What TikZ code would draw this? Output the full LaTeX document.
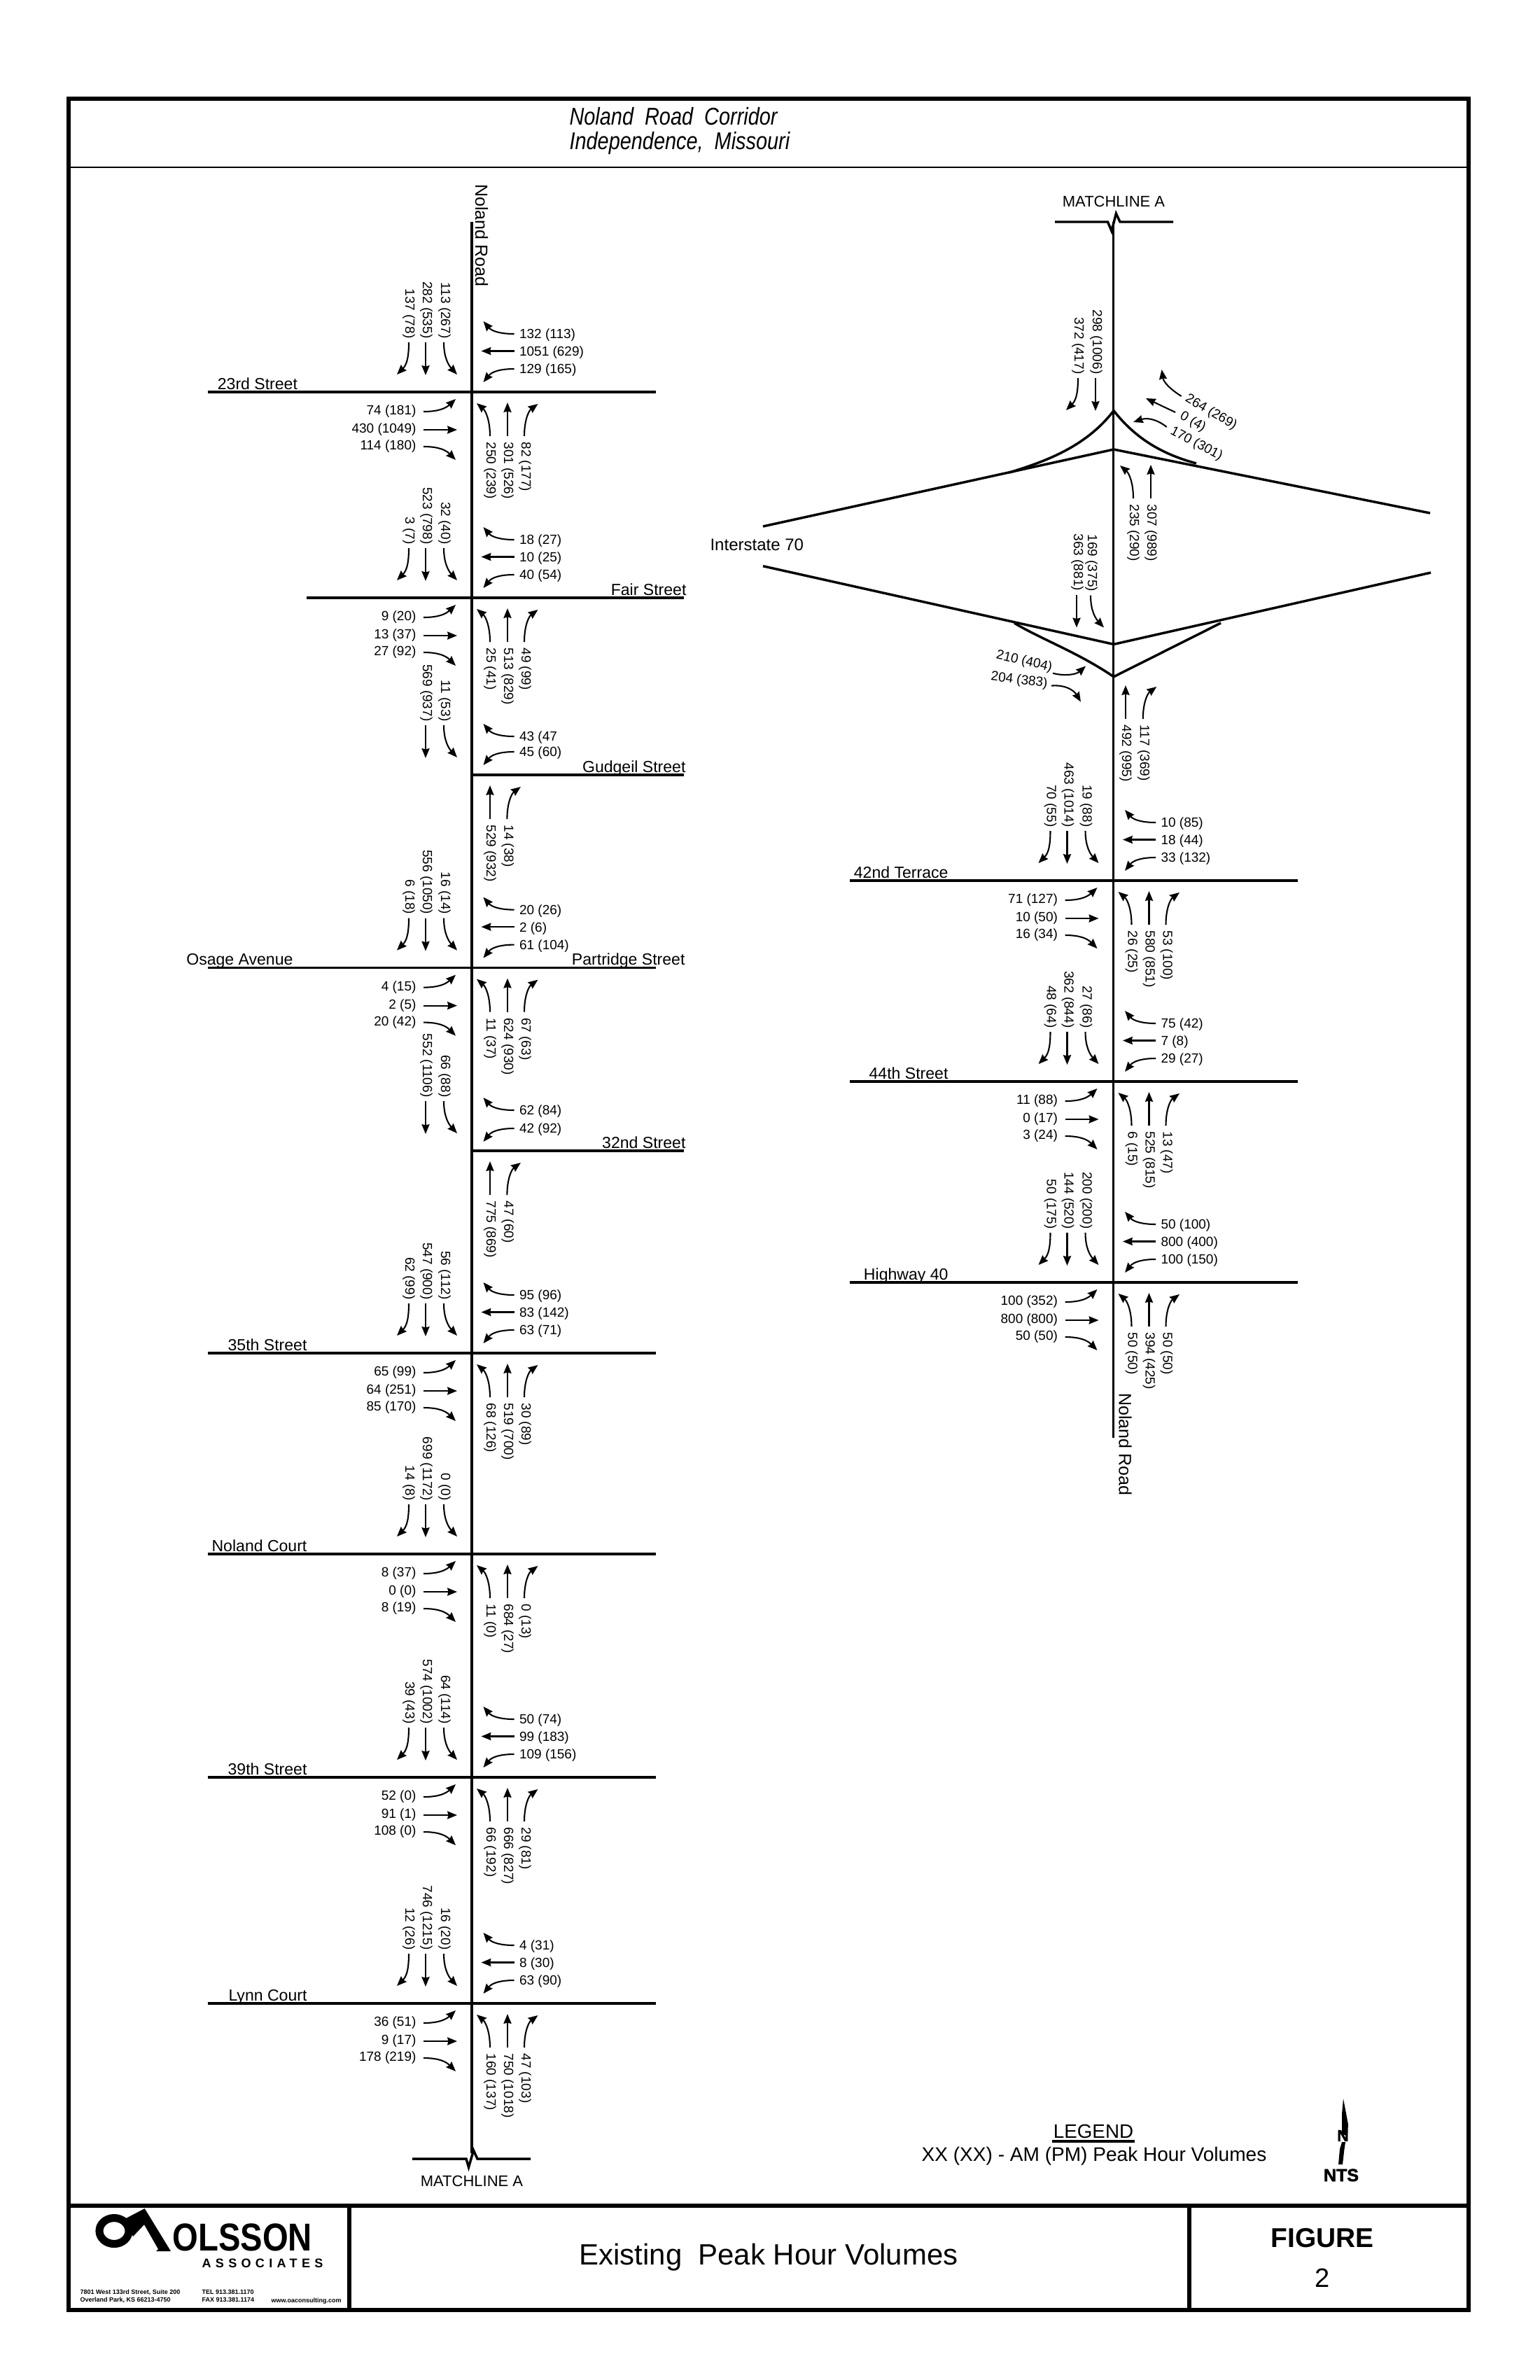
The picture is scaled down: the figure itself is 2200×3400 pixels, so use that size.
\documentclass[tikz,border=0pt]{standalone}
\usepackage{fontspec}
\setmainfont{Liberation Sans}
\usetikzlibrary{arrows.meta}
\newcommand{\volfont}{\fontsize{6.84}{8}\selectfont}
\newcommand{\streetfont}{\fontsize{8.3}{10}\selectfont}
\tikzset{
    road/.style={line width=1.25pt},
    frameline/.style={line width=2pt},
    turn/.style={line width=0.75pt, -{Stealth[length=5pt,width=4pt,inset=0.5pt]}},
    vol/.style={font=\volfont, inner sep=0pt},
    street/.style={font=\streetfont, inner sep=0pt, anchor=base east},
    pics/sleft/.style={code={
        \draw[turn] (0,0) .. controls (0,25) and (-4,33) .. (-17,46);
        \node[vol, rotate=-90, anchor=east] at (0,-5) {#1};}},
    pics/sthru/.style={code={
        \draw[turn] (0,0) -- (0,47);
        \node[vol, rotate=-90, anchor=east] at (1,-5) {#1};}},
    pics/sright/.style={code={
        \draw[turn] (0,0) .. controls (0,22) and (7,33) .. (19,46);
        \node[vol, rotate=-90, anchor=east] at (1,-5) {#1};}},
    pics/wup/.style={code={
        \draw[turn] (0,0) .. controls (-20,0) and (-32,-4) .. (-44,-18);
        \node[vol, anchor=west] at (7,2) {#1};}},
    pics/wthru/.style={code={
        \draw[turn] (0,0) -- (-47,0);
        \node[vol, anchor=west] at (7,2) {#1};}},
    pics/wdown/.style={code={
        \draw[turn] (0,0) .. controls (-20,0) and (-32,4) .. (-44,19);
        \node[vol, anchor=west] at (7,2) {#1};}},
    pics/eup/.style={code={
        \draw[turn] (0,0) .. controls (22,0) and (32,-5) .. (46,-18);
        \node[vol, anchor=east] at (-10,0) {#1};}},
    pics/ethru/.style={code={
        \draw[turn] (0,0) -- (48,0);
        \node[vol, anchor=east] at (-10,0) {#1};}},
    pics/edown/.style={code={
        \draw[turn] (0,0) .. controls (22,0) and (32,5) .. (46,19);
        \node[vol, anchor=east] at (-10,0) {#1};}},
    pics/nleft/.style={code={
        \draw[turn] (0,0) .. controls (0,-22) and (-6,-36) .. (-19,-47);
        \node[vol, rotate=-90, anchor=west] at (0,8) {#1};}},
    pics/nthru/.style={code={
        \draw[turn] (0,0) -- (0,-48);
        \node[vol, rotate=-90, anchor=west] at (0,8) {#1};}},
    pics/nright/.style={code={
        \draw[turn] (0,0) .. controls (0,-22) and (6,-36) .. (19.5,-46);
        \node[vol, rotate=-90, anchor=west] at (1,8) {#1};}},
    pics/southleg/.style n args={3}{code={
        \pic at (-90,-71) {sleft={#1}};
        \pic at (-66,-71) {sthru={#2}};
        \pic at (-40,-71) {sright={#3}};}},
    pics/westleg/.style n args={3}{code={
        \pic at (60.5,-83) {wup={#1}};
        \pic at (60.5,-58.5) {wthru={#2}};
        \pic at (60.5,-33) {wdown={#3}};}},
    pics/eastleg/.style n args={3}{code={
        \pic at (-69,28) {eup={#1}};
        \pic at (-69,54) {ethru={#2}};
        \pic at (-69,78) {edown={#3}};}},
    pics/northleg/.style n args={3}{code={
        \pic at (26,63) {nleft={#1}};
        \pic at (51,63) {nthru={#2}};
        \pic at (75,63) {nright={#3}};}},
}
\begin{document}
\begin{tikzpicture}[x=0.36pt, y=-0.36pt, font=\volfont]
    \useasboundingbox (0,0) rectangle (2200,3400);

    % Sheet frame and title block
    \draw[frameline] (98,141) rectangle (2098,3300);
    \draw[line width=0.9pt] (98,239) -- (2098,239);
    \draw[frameline] (98,3151) -- (2098,3151);
    \draw[frameline] (499,3151) -- (499,3300);
    \draw[frameline] (1699,3151) -- (1699,3300);
    \node[inner sep=0pt, anchor=base west] (titleA) at (813,178) {\scalebox{1}[1.2]{\fontsize{10.4}{13}\selectfont\itshape Noland\ \ Road\ \ Corridor}};
    \node[inner sep=0pt, anchor=base west] (titleB) at (813,213) {\scalebox{1}[1.2]{\fontsize{10.4}{13}\selectfont\itshape Independence,\ \ Missouri}};
    \node[font=\fontsize{15.1}{18}\selectfont, inner sep=0pt, anchor=base west] (sheetname) at (827,3235) {Existing\ \ Peak Hour Volumes};
    \node[font=\fontsize{14}{16}\selectfont\bfseries, inner sep=0pt, anchor=base] (figlabel) at (1889,3210) {FIGURE};
    \node[font=\fontsize{13.7}{16}\selectfont, inner sep=0pt, anchor=base] (fignum) at (1889,3267) {2};

    % Logo
    \draw[line width=4pt] (163,3187) ellipse (21 and 18.5);
    \fill (206.7,3155) -- (244,3216) -- (223,3216) -- (226,3213) -- (206,3178) -- (190,3195) -- (178,3170) -- cycle;
    \node[inner sep=0pt, anchor=west] (firm) at (246,3196) {\scalebox{0.85}[1]{\fontsize{20}{22}\selectfont\bfseries OLSSON}};
    \node[inner sep=0pt, anchor=base west] (firmsub) at (288,3239) {\fontsize{6.5}{8}\selectfont\bfseries\addfontfeature{LetterSpace=35}ASSOCIATES};
    \node[font=\fontsize{3.24}{4}\selectfont\bfseries, inner sep=0pt, anchor=base west] (addrA) at (114,3277) {7801 West 133rd Street, Suite 200};
    \node[font=\fontsize{3.24}{4}\selectfont\bfseries, inner sep=0pt, anchor=base west] (addrB) at (114,3288) {Overland Park, KS 66213-4750};
    \node[font=\fontsize{3.24}{4}\selectfont\bfseries, inner sep=0pt, anchor=base west] (tel) at (288,3277) {TEL 913.381.1170};
    \node[font=\fontsize{3.24}{4}\selectfont\bfseries, inner sep=0pt, anchor=base west] (fax) at (288,3288) {FAX 913.381.1174};
    \node[font=\fontsize{3.24}{4}\selectfont\bfseries, inner sep=0pt, anchor=base west] (web) at (387,3289) {www.oaconsulting.com};

    % Legend and north arrow
    \node[font=\fontsize{10}{12}\selectfont, inner sep=0pt, anchor=base] (legend) at (1562,3054) {LEGEND};
    \draw[line width=1.3pt] (1503,3059) -- (1621,3059);
    \node[font=\fontsize{10.1}{12}\selectfont, inner sep=0pt, anchor=base] (legendtext) at (1563,3087) {XX (XX) - AM (PM) Peak Hour Volumes};
    \fill (1919,2998) -- (1926,3035) -- (1925,3050) -- (1917,3050) -- (1917,3020) -- cycle;
    \fill (1922,3060) -- (1920,3074) -- (1918,3092) -- (1912,3092) -- (1914,3070) -- (1917,3060) -- cycle;
    \node[font=\fontsize{8.2}{10}\selectfont\bfseries\addfontfeature{FakeBold=2}, inner sep=0pt] (northN) at (1918.5,3051) {N};
    \node[font=\fontsize{9}{10}\selectfont\bfseries\addfontfeature{FakeBold=2}, inner sep=0pt, anchor=base] (nts) at (1916,3116) {NTS};

    % Left sheet: road and streets
    \draw[road] (674,316.6) -- (674,3076);
    \foreach \ystreet in {560,1382.6,1933,2220,2539,2862}
        \draw[road] (296.5,\ystreet) -- (936.5,\ystreet);
    \draw[road] (438,854) -- (977,854);
    \draw[road] (674,1107) -- (977,1107);
    \draw[road] (674,1644) -- (977,1644);
    \draw[road] (589,3084) -- (666,3084) -- (669.5,3096) -- (676.5,3072) -- (682,3084) -- (758,3084);
    \node[font=\fontsize{7.92}{9}\selectfont, inner sep=0pt] (matchB) at (674,3116) {MATCHLINE A};
    \node[font=\fontsize{9}{11}\selectfont, inner sep=0pt, rotate=-90, anchor=west] (nolandA) at (688,262.5) {Noland Road};

    \node[street] (st23) at (425.5,556) {23rd Street};
    \node[street] (stFair) at (981,850) {Fair Street};
    \node[street] (stGudgeil) at (980,1103) {Gudgeil Street};
    \node[street] (stOsage) at (419,1378.6) {Osage Avenue};
    \node[street] (stPartridge) at (979,1378.6) {Partridge Street};
    \node[street] (st32) at (980,1640) {32nd Street};
    \node[street] (st35) at (439,1929) {35th Street};
    \node[street] (stCourt) at (439,2216) {Noland Court};
    \node[street] (st39) at (439,2535) {39th Street};
    \node[street] (stLynn) at (439,2858) {Lynn Court};

    % 23rd Street
    \pic at (674,560) {southleg={137 (78)}{282 (535)}{113 (267)}};
    \pic at (674,560) {westleg={132 (113)}{1051 (629)}{129 (165)}};
    \pic at (674,560) {eastleg={74 (181)}{430 (1049)}{114 (180)}};
    \pic at (674,560) {northleg={250 (239)}{301 (526)}{82 (177)}};
    % Fair Street
    \pic at (674,854) {southleg={3 (7)}{523 (798)}{32 (40)}};
    \pic at (674,854) {westleg={18 (27)}{10 (25)}{40 (54)}};
    \pic at (674,854) {eastleg={9 (20)}{13 (37)}{27 (92)}};
    \pic at (674,854) {northleg={25 (41)}{513 (829)}{49 (99)}};
    % Gudgeil Street
    \pic at (608,1036) {sthru={569 (937)}};
    \pic at (634,1036) {sright={11 (53)}};
    \pic at (734.5,1052) {wup={43 (47}};
    \pic at (734.5,1074) {wdown={45 (60)}};
    \pic at (700,1170) {nthru={529 (932)}};
    \pic at (724.4,1170) {nright={14 (38)}};
    % Partridge Street
    \pic at (674,1382.6) {southleg={6 (18)}{556 (1050)}{16 (14)}};
    \pic at (674,1382.6) {westleg={20 (26)}{2 (6)}{61 (104)}};
    \pic at (674,1382.6) {eastleg={4 (15)}{2 (5)}{20 (42)}};
    \pic at (674,1382.6) {northleg={11 (37)}{624 (930)}{67 (63)}};
    % 32nd Street
    \pic at (608,1573) {sthru={552 (1106)}};
    \pic at (634,1573) {sright={66 (88)}};
    \pic at (734.5,1586) {wup={62 (84)}};
    \pic at (734.5,1612) {wdown={42 (92)}};
    \pic at (700,1707) {nthru={775 (869)}};
    \pic at (724.4,1707) {nright={47 (60)}};
    % 35th Street
    \pic at (674,1933) {southleg={62 (99)}{547 (900)}{56 (112)}};
    \pic at (674,1933) {westleg={95 (96)}{83 (142)}{63 (71)}};
    \pic at (674,1933) {eastleg={65 (99)}{64 (251)}{85 (170)}};
    \pic at (674,1933) {northleg={68 (126)}{519 (700)}{30 (89)}};
    % Noland Court
    \pic at (674,2220) {southleg={14 (8)}{699 (1172)}{0 (0)}};
    \pic at (674,2220) {eastleg={8 (37)}{0 (0)}{8 (19)}};
    \pic at (674,2220) {northleg={11 (0)}{684 (27)}{0 (13)}};
    % 39th Street
    \pic at (674,2539) {southleg={39 (43)}{574 (1002)}{64 (114)}};
    \pic at (674,2539) {westleg={50 (74)}{99 (183)}{109 (156)}};
    \pic at (674,2539) {eastleg={52 (0)}{91 (1)}{108 (0)}};
    \pic at (674,2539) {northleg={66 (192)}{666 (827)}{29 (81)}};
    % Lynn Court
    \pic at (674,2862) {southleg={12 (26)}{746 (1215)}{16 (20)}};
    \pic at (674,2862) {westleg={4 (31)}{8 (30)}{63 (90)}};
    \pic at (674,2862) {eastleg={36 (51)}{9 (17)}{178 (219)}};
    \pic at (674,2862) {northleg={160 (137)}{750 (1018)}{47 (103)}};

    % Right sheet: road and streets
    \draw[road] (1590.5,317) -- (1590.5,2054);
    \foreach \ystreet in {1258,1545,1832}
        \draw[road] (1214,\ystreet) -- (1853.5,\ystreet);
    \draw[road] (1507,317) -- (1582.5,317) -- (1588,330) -- (1594.4,305) -- (1600,317) -- (1676,317);
    \node[font=\fontsize{7.92}{9}\selectfont, inner sep=0pt] (matchA) at (1591,288) {MATCHLINE A};
    \node[font=\fontsize{9}{11}\selectfont, inner sep=0pt, rotate=-90, anchor=west] (nolandB) at (1607.6,1989.6) {Noland Road};
    \node[street] (st42) at (1355,1254) {42nd Terrace};
    \node[street] (st44) at (1355,1541) {44th Street};
    \node[street] (stHwy) at (1355,1828) {Highway 40};

    % Interstate 70 and ramps
    \node[font=\fontsize{8.64}{10}\selectfont, inner sep=0pt, anchor=west] (interstate) at (1014,778) {Interstate 70};
    \draw[road] (1090,752) -- (1591,642) -- (2043,733);
    \draw[road] (1090,808.7) -- (1591,920.4) -- (2044,818);
    \draw[road] (1442,675) .. controls (1490,660) and (1550,640) .. (1591,586.7) .. controls (1625,630) and (1665,650) .. (1709,662);
    \draw[road] (1449,890) .. controls (1485,912) and (1540,932) .. (1591,966.8) -- (1744,890);

    % Ramp movements
    \pic at (1565,540) {sthru={298 (1006)}};
    \pic at (1540,540) {sleft={372 (417)}};
    \pic at (1619,712) {nleft={235 (290)}};
    \pic at (1644,712) {nthru={307 (989)}};
    \pic at (1538,849.5) {sthru={363 (881)}};
    \pic at (1558,850.5) {sright={169 (375)}};
    \pic at (1608,1027) {nthru={492 (995)}};
    \pic at (1632.8,1027) {nright={117 (369)}};
    \draw[turn] (1687.7,566) .. controls (1670,555) and (1662,545) .. (1659.6,528);
    \draw[turn] (1679,589) -- (1637,569);
    \draw[turn] (1666.7,610) .. controls (1650,597) and (1637,597) .. (1619,603);
    \node[vol, rotate=-30] (rampA) at (1730,589) {264 (269)};
    \node[vol, rotate=-30] (rampB) at (1704,603) {0 (4)};
    \node[vol, rotate=-28] (rampC) at (1709,634) {170 (301)};
    \draw[turn] (1504,961.7) .. controls (1520,966) and (1537,964) .. (1551,951.5);
    \draw[turn] (1502,979.6) .. controls (1522,978) and (1534,986) .. (1544,1002.6);
    \node[vol, rotate=-13] (rampD) at (1463,945) {210 (404)};
    \node[vol, rotate=-7] (rampE) at (1456,972) {204 (383)};

    % 42nd Terrace
    \pic at (1590.5,1258) {southleg={70 (55)}{463 (1014)}{19 (88)}};
    \pic at (1590.5,1258) {westleg={10 (85)}{18 (44)}{33 (132)}};
    \pic at (1590.5,1258) {eastleg={71 (127)}{10 (50)}{16 (34)}};
    \pic at (1590.5,1258) {northleg={26 (25)}{580 (851)}{53 (100)}};
    % 44th Street
    \pic at (1590.5,1545) {southleg={48 (64)}{362 (844)}{27 (86)}};
    \pic at (1590.5,1545) {westleg={75 (42)}{7 (8)}{29 (27)}};
    \pic at (1590.5,1545) {eastleg={11 (88)}{0 (17)}{3 (24)}};
    \pic at (1590.5,1545) {northleg={6 (15)}{525 (815)}{13 (47)}};
    % Highway 40
    \pic at (1590.5,1832) {southleg={50 (175)}{144 (520)}{200 (200)}};
    \pic at (1590.5,1832) {westleg={50 (100)}{800 (400)}{100 (150)}};
    \pic at (1590.5,1832) {eastleg={100 (352)}{800 (800)}{50 (50)}};
    \pic at (1590.5,1832) {northleg={50 (50)}{394 (425)}{50 (50)}};
\end{tikzpicture}
\end{document}
